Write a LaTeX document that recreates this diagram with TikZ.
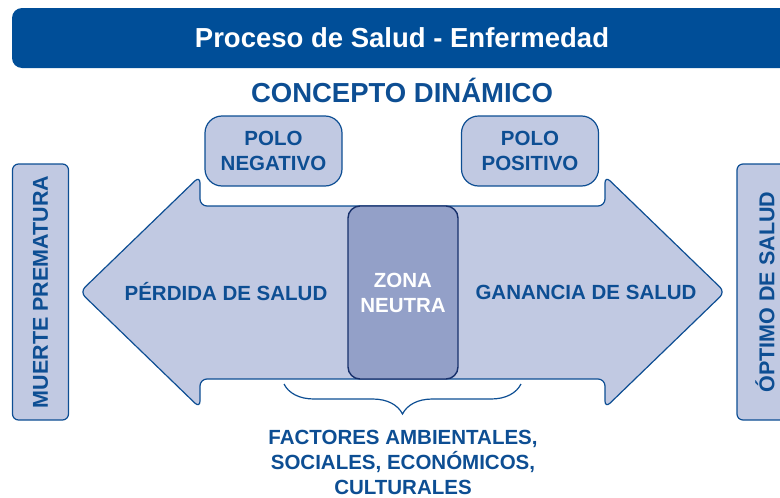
\documentclass[tikz,border=0pt]{standalone}
\usepackage{fontspec}
\setmainfont{Liberation Sans}
\usetikzlibrary{positioning,calc,decorations.pathreplacing}
\definecolor{saludBlue}{HTML}{0D4E93}
\definecolor{barBlue}{HTML}{004E98}
\definecolor{lightFill}{HTML}{C1C9E2}
\definecolor{zonaFill}{HTML}{93A0C8}
\definecolor{zonaLine}{HTML}{17306B}

\begin{document}
\begin{tikzpicture}[
    x=1pt, y=-1pt,
    font=\bfseries\fontsize{20.5}{25}\selectfont,
    txt/.style={text=saludBlue,align=center},
    polo/.style={txt,draw=saludBlue,line width=1.2pt,fill=lightFill,rounded corners=17pt,
        minimum width=137pt,minimum height=70pt,inner sep=0pt},
    extremo/.style={txt,draw=saludBlue,line width=1.2pt,fill=lightFill,rounded corners=6pt,
        minimum width=256pt,minimum height=56pt,rotate=90,font=\bfseries\fontsize{21.5}{24}\selectfont},
    flecha/.style={draw=saludBlue,line width=1.2pt,fill=lightFill,rounded corners=7pt},
    zonabox/.style={draw=zonaLine,line width=1.4pt,fill=zonaFill,rounded corners=12pt,
        minimum width=110pt,minimum height=173pt,text=white,align=center},
    llave/.style={draw=saludBlue,line width=1.2pt,decorate,decoration={brace,amplitude=30pt}}
]
    \useasboundingbox (0,0) rectangle (780,498);

    % title bar
    \fill[barBlue,rounded corners=10pt] (12,8) rectangle (800,68);
    \node[text=white,font=\bfseries\fontsize{27.5}{30}\selectfont] (title) at (402,38) {Proceso de Salud - Enfermedad};
    \node[txt,font=\bfseries\fontsize{27.5}{30}\selectfont] (concepto) at (402,90) {CONCEPTO DINÁMICO};

    % poles
    \node[polo] (poloneg) at (273.5,151) {POLO\\NEGATIVO};
    \node[polo] (polopos) at (530,151) {POLO\\POSITIVO};

    % double arrow
    \draw[flecha] (200,206) -- (605,206) -- (605,176) -- (725,292) -- (605,408)
        -- (605,379) -- (200,379) -- (200,408) -- (80,292) -- (200,176) -- cycle;

    \node[zonabox] (zona) at (403,292.5) {ZONA\\NEUTRA};
    \node[txt] (perdida) at (226,292) {PÉRDIDA DE SALUD};
    \node[txt] (ganancia) at (586,292) {GANANCIA DE SALUD};

    % extremes
    \node[extremo] (muerte) at (40.5,292) {MUERTE PREMATURA};
    \node[extremo] (optimo) at (765,292) {ÓPTIMO DE SALUD};

    % factors
    \coordinate (bizq) at (284,384);
    \coordinate (bder) at (521,384);
    \draw[llave] (bder) -- (bizq);
    \node[txt] (factores) at (403,462) {FACTORES AMBIENTALES,\\SOCIALES, ECONÓMICOS,\\CULTURALES};
\end{tikzpicture}
\end{document}
